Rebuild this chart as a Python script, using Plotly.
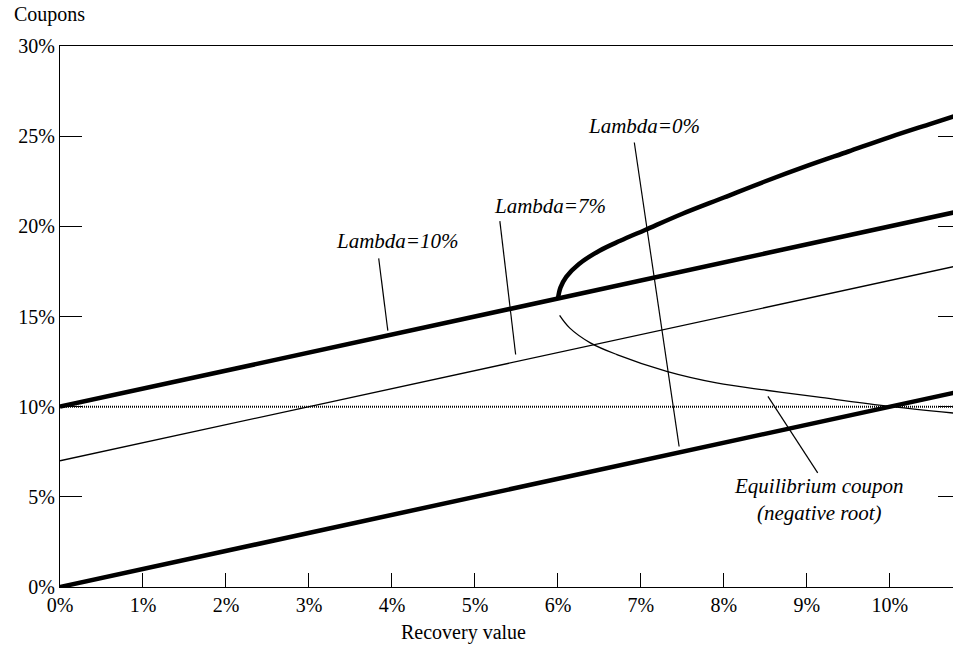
import plotly.graph_objects as go

# ---- data (percent units) ----
recovery_line = [0.0, 10.8]
lambda10_coupon = [10.0, 20.8]
lambda7_coupon = [7.0, 17.8]
lambda0_coupon = [0.0, 10.8]
flat_coupon = [10.0, 10.0]

upper_root_x = [6.0, 6.03, 6.1, 6.25, 6.5, 6.75, 7.05, 7.5, 8.0, 8.5, 9.0, 9.5, 10.0, 10.5, 10.8]
upper_root_y = [16.0, 16.6, 17.2, 17.9, 18.65, 19.2, 19.8, 20.7, 21.6, 22.5, 23.35, 24.15, 24.95, 25.7, 26.15]

lower_root_x = [6.02, 6.14, 6.39, 6.71, 7.31, 7.91, 8.51, 9.12, 9.92, 10.8]
lower_root_y = [15.06, 14.37, 13.54, 12.89, 11.96, 11.32, 10.91, 10.54, 10.06, 9.63]

x_ticks = [0, 1, 2, 3, 4, 5, 6, 7, 8, 9, 10]
x_tick_text = ["0%", "1%", "2%", "3%", "4%", "5%", "6%", "7%", "8%", "9%", "10%"]
y_ticks = [0, 5, 10, 15, 20, 25, 30]
y_tick_text = ["0%", "5%", "10%", "15%", "20%", "25%", "30%"]

labels = ["Lambda=10%", "Lambda=7%", "Lambda=0%", "Equilibrium coupon<br>(negative root)"]
label_x = [4.07, 5.90, 7.04, 9.14]
label_y = [19.18, 21.13, 25.54, 4.83]
leader_x0 = [3.84, 5.30, 6.92, 8.53]
leader_y0 = [18.22, 20.29, 24.65, 10.57]
leader_x1 = [3.95, 5.49, 7.46, 9.13]
leader_y1 = [14.22, 12.89, 7.79, 6.33]

FONT = "Liberation Serif"

fig = go.Figure()

def line(x, y, w, dash="solid", shape="linear"):
    fig.add_trace(go.Scatter(x=x, y=y, mode="lines",
                             line=dict(color="black", width=w, dash=dash,
                                       shape=shape, smoothing=1.0),
                             showlegend=False, hoverinfo="skip"))

line(recovery_line, flat_coupon, 2.0, "1px,1px")
line(recovery_line, lambda7_coupon, 1.3)
line(lower_root_x, lower_root_y, 1.3, shape="spline")
line(recovery_line, lambda0_coupon, 4.5)
line(recovery_line, lambda10_coupon, 4.5)
line(upper_root_x, upper_root_y, 4.5, shape="spline")

# invisible trace for the right-hand tick axis
fig.add_trace(go.Scatter(x=[0], y=[0], yaxis="y2", mode="markers",
                         marker=dict(opacity=0), showlegend=False, hoverinfo="skip"))

for i in range(len(labels)):
    fig.add_shape(type="line", x0=leader_x0[i], y0=leader_y0[i],
                  x1=leader_x1[i], y1=leader_y1[i],
                  line=dict(color="black", width=1.2))
    fig.add_annotation(x=label_x[i], y=label_y[i], text="<i>" + labels[i] + "</i>",
                       showarrow=False, font=dict(family=FONT, size=21, color="black"),
                       xanchor="center", yanchor="middle")

fig.add_annotation(x=-48 / 893, y=1 + (46 - 15) / 541, xref="paper", yref="paper",
                   text="Coupons", showarrow=False, xanchor="left", yanchor="middle",
                   font=dict(family=FONT, size=20, color="black"))
fig.add_annotation(x=(463 - 60) / 893, y=(587 - 632) / 541, xref="paper", yref="paper",
                   text="Recovery value", showarrow=False, xanchor="center", yanchor="middle",
                   font=dict(family=FONT, size=20, color="black"))

fig.update_layout(
    width=953, height=654,
    margin=dict(l=60, r=0, t=46, b=67),
    paper_bgcolor="white", plot_bgcolor="white",
    font=dict(family=FONT, size=20, color="black"),
    xaxis=dict(range=[0, 10.76], tickmode="array", tickvals=x_ticks, ticktext=x_tick_text,
               showgrid=False, zeroline=False, showline=True, linecolor="black",
               linewidth=1.2, mirror=True, ticks="inside", ticklen=14,
               tickcolor="black", tickwidth=1.2),
    yaxis=dict(range=[0, 30], tickmode="array", tickvals=y_ticks, ticktext=y_tick_text,
               showgrid=False, zeroline=False, showline=True, linecolor="black",
               linewidth=1.2, ticks="inside", ticklen=22, tickcolor="black",
               tickwidth=1.2),
    yaxis2=dict(range=[0, 30], tickvals=y_ticks, overlaying="y", side="right",
                showgrid=False, zeroline=False, showline=False,
                showticklabels=False, ticks="inside", ticklen=15,
                tickcolor="black", tickwidth=1.2),
)

fig.write_html("out.html")
